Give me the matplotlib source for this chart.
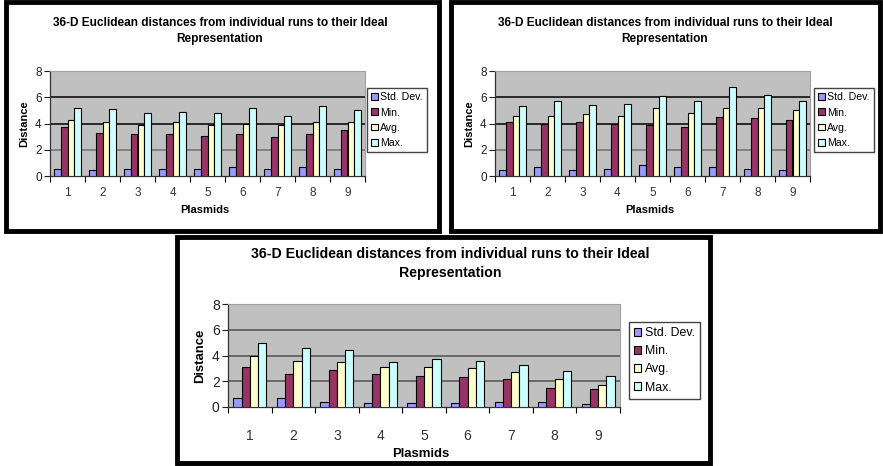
import numpy as np
import matplotlib.pyplot as plt
from matplotlib.patches import Rectangle

plt.rcParams['font.family'] = ['Liberation Sans', 'DejaVu Sans']

plasmids = ['1', '2', '3', '4', '5', '6', '7', '8', '9']
series = ['Std. Dev.', 'Min.', 'Avg.', 'Max.']
colors = ['#9999ff', '#993366', '#ffffcc', '#ccffff']
title = '36-D Euclidean distances from individual runs to their Ideal\nRepresentation'

# first set of runs
std_a = [0.5, 0.45, 0.5, 0.5, 0.5, 0.65, 0.5, 0.65, 0.5]
min_a = [3.75, 3.3, 3.2, 3.2, 3.05, 3.2, 3.0, 3.2, 3.5]
avg_a = [4.3, 4.1, 3.9, 4.1, 3.9, 4.0, 3.85, 4.1, 4.1]
max_a = [5.2, 5.1, 4.8, 4.9, 4.8, 5.15, 4.6, 5.3, 5.0]

# second set of runs
std_b = [0.45, 0.65, 0.45, 0.5, 0.85, 0.7, 0.65, 0.55, 0.45]
min_b = [4.1, 3.95, 4.1, 4.0, 3.9, 3.7, 4.5, 4.4, 4.25]
avg_b = [4.6, 4.6, 4.7, 4.6, 5.2, 4.8, 5.2, 5.2, 5.0]
max_b = [5.35, 5.7, 5.4, 5.5, 6.1, 5.7, 6.8, 6.2, 5.7]

# third set of runs
std_c = [0.7, 0.7, 0.4, 0.3, 0.3, 0.3, 0.4, 0.4, 0.2]
min_c = [3.1, 2.6, 2.9, 2.6, 2.4, 2.35, 2.2, 1.5, 1.4]
avg_c = [4.0, 3.6, 3.5, 3.1, 3.1, 3.0, 2.7, 2.2, 1.7]
max_c = [5.0, 4.55, 4.4, 3.5, 3.7, 3.6, 3.3, 2.8, 2.4]

W, H = 883, 466
fig = plt.figure(figsize=(W / 100, H / 100), dpi=100)


def fbox(x0, y0, x1, y1):
    # pixel box (top-left origin) -> figure fraction rect
    return [x0 / W, 1 - y1 / H, (x1 - x0) / W, (y1 - y0) / H]


def panel(frame, plot, leg_xy, title_xy, ylab_x, xlab_y, values, s, grid_cols, tick_pad):
    fr = fbox(*frame)
    fig.add_artist(Rectangle((fr[0], fr[1]), fr[2], fr[3], transform=fig.transFigure,
                             fill=False, lw=3.5, ec='black', zorder=10))
    ax = fig.add_axes(fbox(*plot))
    ax.set_facecolor('#c0c0c0')
    x = np.arange(1, len(plasmids) + 1)
    w = 0.19
    handles = []
    for i, (vals, name, c) in enumerate(zip(values, series, colors)):
        b = ax.bar(x + (i - 1.5) * w, vals, w, color=c, edgecolor='black',
                   linewidth=0.8, label=name, zorder=3)
        handles.append(b)
    for yv, gc in zip([2, 4, 6], grid_cols):
        ax.axhline(yv, color=gc, lw=1.1, zorder=1)
    ax.set_xlim(0.5, len(plasmids) + 0.5)
    ax.set_ylim(0, 8)
    ax.set_yticks([0, 2, 4, 6, 8])
    ax.tick_params(axis='y', labelsize=8.5 * s, length=4, width=0.8, colors='#222222', pad=2)
    ax.set_xticks(np.arange(0.5, len(plasmids) + 1, 1))
    ax.set_xticklabels([])
    ax.tick_params(axis='x', which='major', length=4, width=0.8, direction='out')
    ax.set_xticks(x, minor=True)
    ax.set_xticklabels(plasmids, minor=True)
    ax.tick_params(axis='x', which='minor', length=0, labelsize=8.5 * s,
                   labelcolor='#333333', pad=tick_pad)
    for side in ['top', 'right']:
        ax.spines[side].set_color('#a0a0a0')
        ax.spines[side].set_linewidth(0.8)
    for side in ['left', 'bottom']:
        ax.spines[side].set_color('#333333')
        ax.spines[side].set_linewidth(0.9)

    fig.text(title_xy[0] / W, 1 - title_xy[1] / H, title, ha='center', va='top',
             fontsize=8.6 * s, fontweight='bold', linespacing=1.45)
    cy = (plot[1] + plot[3]) / 2
    fig.text(ylab_x / W, 1 - cy / H, 'Distance', rotation=90, ha='center', va='center',
             fontsize=8 * s, fontweight='bold')
    fig.text(((plot[0] + plot[2]) / 2 - 3) / W, 1 - xlab_y / H, 'Plasmids', ha='center',
             va='center', fontsize=8 * s, fontweight='bold')
    fig.legend(handles, series, loc='upper left',
               bbox_to_anchor=(leg_xy[0] / W, 1 - leg_xy[1] / H),
               fontsize=7.6 * s, frameon=True, fancybox=False, edgecolor='#444444',
               framealpha=1, handlelength=0.6, handleheight=0.6, handletextpad=0.25,
               labelspacing=0.5, borderpad=0.4, borderaxespad=0)
    return ax


panel((6, 2, 439, 231), (50, 71, 365, 176), (367, 88), (220, 17), 24, 210,
      [std_a, min_a, avg_a, max_a], 1.0, ['#707070', 'black', 'black'], 8)
panel((451, 2, 880, 231), (495, 71, 810, 176), (814, 88), (665, 17), 469, 210,
      [std_b, min_b, avg_b, max_b], 1.0, ['#707070', 'black', 'black'], 8)
panel((177, 237, 710, 463), (228, 304, 620, 407), (629, 322), (450, 247), 200, 454,
      [std_c, min_c, avg_c, max_c], 1.18, ['#505050', '#505050', '#505050'], 16)

fig.savefig('out.png', dpi=100, facecolor='white')
